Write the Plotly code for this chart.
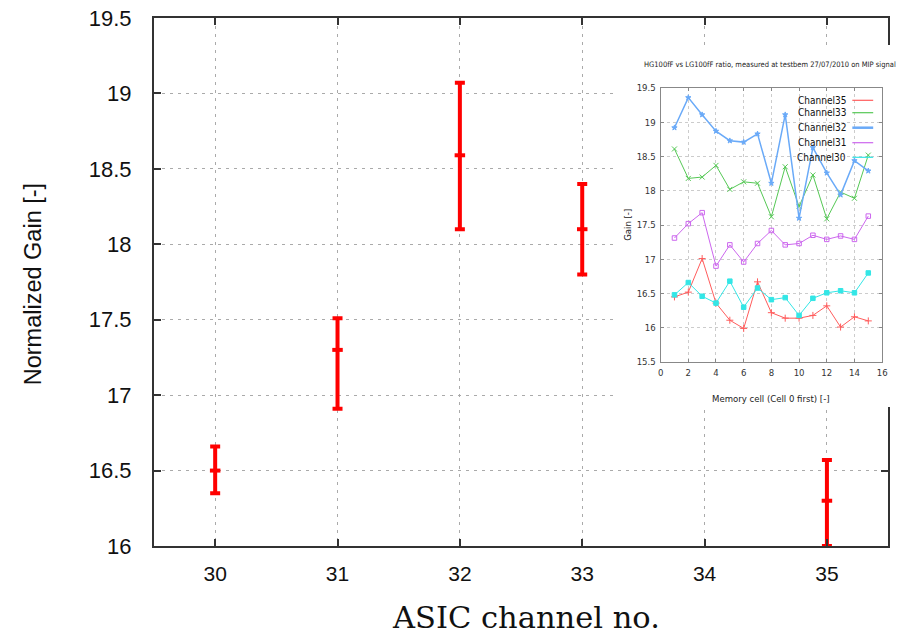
import plotly.graph_objects as go

# ---------------- main chart data ----------------
channels = [30, 31, 32, 33, 35]
gain = [16.50, 17.30, 18.59, 18.10, 16.30]
err_up = [0.16, 0.21, 0.48, 0.30, 0.27]
err_down = [0.15, 0.39, 0.49, 0.30, 0.30]
x_ticks = [30, 31, 32, 33, 34, 35]
y_ticks = [16, 16.5, 17, 17.5, 18, 18.5, 19, 19.5]

# ---------------- inset data ----------------
cells = [1, 2, 3, 4, 5, 6, 7, 8, 9, 10, 11, 12, 13, 14, 15]
ch35 = [16.45, 16.52, 17.01, 16.36, 16.11, 15.99, 16.67, 16.22, 16.14, 16.14, 16.18, 16.32, 16.01, 16.16, 16.10]
ch33 = [18.61, 18.18, 18.20, 18.37, 18.02, 18.13, 18.11, 17.62, 18.35, 17.77, 18.23, 17.59, 17.98, 17.89, 18.52]
ch32 = [18.92, 19.36, 19.11, 18.87, 18.73, 18.71, 18.83, 18.11, 19.11, 17.60, 18.63, 18.26, 17.94, 18.44, 18.29]
ch31 = [17.31, 17.52, 17.68, 16.90, 17.21, 16.96, 17.23, 17.42, 17.21, 17.23, 17.35, 17.29, 17.34, 17.29, 17.63]
ch30 = [16.48, 16.66, 16.46, 16.36, 16.68, 16.30, 16.58, 16.41, 16.44, 16.18, 16.43, 16.51, 16.54, 16.51, 16.80]
inset_x_ticks = [0, 2, 4, 6, 8, 10, 12, 14, 16]
inset_y_ticks = [15.5, 16, 16.5, 17, 17.5, 18, 18.5, 19, 19.5]

series = [
    ("Channel35", ch35, "#ff5c5c", "cross-thin-open", 1.0, 5),
    ("Channel33", ch33, "#55c855", "x-thin-open", 1.0, 5),
    ("Channel32", ch32, "#6aaaf8", "star", 1.5, 4),
    ("Channel31", ch31, "#cc66ee", "square-open", 1.0, 4.5),
    ("Channel30", ch30, "#33e6e6", "square", 1.0, 4.5),
]

# ---------------- geometry helpers (pixel -> paper) ----------------
W, H = 907, 634
ML, MR, MT, MB = 154, 0, 18, 88
PW, PH = W - ML - MR, H - MT - MB


def px(x):
    return (x - ML) / PW


def py(y):
    return (H - MB - y) / PH


MAIN_FONT = "Liberation Sans, Arial, sans-serif"
NARROW = "Liberation Sans Narrow, Arial Narrow, DejaVu Sans Condensed, Liberation Sans, sans-serif"
SERIF = "DejaVu Serif, Liberation Serif, serif"

fig = go.Figure()

# main error bars
fig.add_trace(go.Scatter(
    x=channels, y=gain, mode="markers",
    marker=dict(symbol="line-ew", size=7.5, color="#ff0000",
                line=dict(color="#ff0000", width=4)),
    error_y=dict(type="data", symmetric=False, array=err_up, arrayminus=err_down,
                 color="#ff0000", thickness=4, width=5),
    showlegend=False, cliponaxis=False, hoverinfo="skip",
))

# white cover (pasted image area)
fig.add_trace(go.Scatter(x=[], y=[], xaxis="x2", yaxis="y2",
                         showlegend=False, hoverinfo="skip"))

# inset series
for name, vals, col, sym, lw, ms in series:
    fig.add_trace(go.Scatter(
        x=cells, y=vals, mode="lines+markers", name=name,
        xaxis="x3", yaxis="y3",
        line=dict(color=col, width=lw),
        marker=dict(symbol=sym, size=ms, color=col, line=dict(color=col, width=1)),
        showlegend=False, hoverinfo="skip",
    ))

main_axis = dict(
    ticks="inside", ticklen=7, tickwidth=1.5, tickcolor="#333",
    showline=True, linecolor="#333", linewidth=2, mirror="ticks",
    showgrid=True, gridcolor="#aaaaaa", gridwidth=1, griddash="3px,5px",
    zeroline=False,
)

inset_axis = dict(
    ticks="inside", ticklen=3, tickwidth=1, tickcolor="#888",
    showline=True, linecolor="#888", linewidth=1, mirror="ticks",
    showgrid=True, gridcolor="#cccccc", gridwidth=1, griddash="dot",
    zeroline=False, tickfont=dict(family=NARROW, size=9.5, color="#333"),
    ticklabelstandoff=2,
)

annotations = [
    dict(text="Normalized Gain [-]", x=px(32), y=py(284.5), xref="paper", yref="paper",
         textangle=-90, showarrow=False, xanchor="center", yanchor="middle",
         font=dict(family=MAIN_FONT, size=23.5, color="#111")),
    dict(text="ASIC channel no.", x=px(528), y=py(617), xref="paper", yref="paper",
         showarrow=False, xanchor="center", yanchor="middle",
         font=dict(family=SERIF, size=30.5, color="#111")),
    dict(text="HG100fF vs LG100fF ratio, measured at testbem 27/07/2010 on MIP signal",
         x=px(645), y=py(65), xref="paper", yref="paper",
         showarrow=False, xanchor="left", yanchor="middle",
         font=dict(family=NARROW, size=7.5, color="#222")),
    dict(text="Gain [-]", x=px(630), y=py(225), xref="paper", yref="paper",
         textangle=-90, showarrow=False, xanchor="center", yanchor="middle",
         font=dict(family=NARROW, size=9.5, color="#222")),
    dict(text="Memory cell (Cell 0 first) [-]", x=px(775), y=py(398), xref="paper", yref="paper",
         showarrow=False, xanchor="center", yanchor="middle",
         font=dict(family=NARROW, size=9.5, color="#222")),
]

shapes = []
legend_rows = [100.3, 112.7, 127.7, 142.7, 157.3]
for (name, vals, col, sym, lw, ms), ry in zip(series, legend_rows):
    annotations.append(dict(
        text=name, x=px(853), y=py(ry), xref="paper", yref="paper",
        showarrow=False, xanchor="right", yanchor="middle",
        font=dict(family=NARROW, size=10, color="#111")))
    shapes.append(dict(type="line", xref="paper", yref="paper",
                       x0=px(857), x1=px(878), y0=py(ry), y1=py(ry),
                       line=dict(color=col, width=2.5 if name == "Channel32" else 1.2),
                       layer="above"))

fig.update_layout(
    width=W, height=H,
    margin=dict(l=ML, r=MR, t=MT, b=MB, pad=0),
    paper_bgcolor="white", plot_bgcolor="white",
    showlegend=False,
    xaxis=dict(domain=[0, px(893)], range=[29.5, 35.5], tickvals=x_ticks,
               tickfont=dict(family=MAIN_FONT, size=21, color="#111"),
               ticklabelstandoff=8, **main_axis),
    yaxis=dict(domain=[0, 1], range=[16, 19.5], tickvals=y_ticks,
               tickfont=dict(family=MAIN_FONT, size=22, color="#111"),
               ticklabelstandoff=16, **main_axis),
    xaxis2=dict(domain=[px(618), 1], range=[0, 1], visible=False, anchor="y2"),
    yaxis2=dict(domain=[py(407), py(45)], range=[0, 1], visible=False, anchor="x2"),
    xaxis3=dict(domain=[px(664), px(887)], range=[0, 16], tickvals=inset_x_ticks,
                anchor="y3", **inset_axis),
    yaxis3=dict(domain=[py(362), py(88)], range=[15.5, 19.5], tickvals=inset_y_ticks,
                anchor="x3", **inset_axis),
    annotations=annotations,
    shapes=shapes,
)

fig.write_html("out.html", config={"displayModeBar": False},
               post_script="document.body.style.margin='0';document.body.style.overflow='hidden';")
